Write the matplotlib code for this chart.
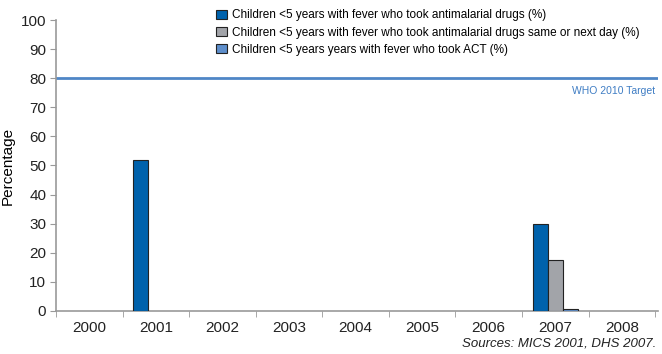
import numpy as np
import matplotlib.pyplot as plt

years = ['2000', '2001', '2002', '2003', '2004', '2005', '2006', '2007', '2008']
took_drugs = [0, 52, 0, 0, 0, 0, 0, 30, 0]
same_next_day = [0, 0, 0, 0, 0, 0, 0, 17.5, 0]
took_act = [0, 0, 0, 0, 0, 0, 0, 0.7, 0]
labels = ['Children <5 years with fever who took antimalarial drugs (%)',
          'Children <5 years with fever who took antimalarial drugs same or next day (%)',
          'Children <5 years years with fever who took ACT (%)']
target = 80

plt.rcParams['font.family'] = ['Liberation Sans', 'DejaVu Sans']

fig = plt.figure(figsize=(6.62, 3.54), dpi=100)
ax = fig.add_axes([0.0846, 0.1215, 0.91, 0.822])

x = np.arange(len(years))
w = 0.225
series = [(took_drugs, '#0062AC'), (same_next_day, '#A2A4A9'), (took_act, '#5E8ECB')]
for i, (vals, col) in enumerate(series):
    v = np.array(vals, dtype=float)
    mask = v > 0
    ax.bar(x[mask] + (i - 1) * w, v[mask], w, color=col, edgecolor='#222222',
           linewidth=0.8, zorder=3)

ax.axhline(target, color='#4F86C6', linewidth=2, zorder=2)
ax.text(len(years) - 0.5, target - 2.8, 'WHO 2010 Target', color='#3F7DC4',
        fontsize=7.5, ha='right', va='top')

ax.set_xlim(-0.5, len(years) - 0.45)
ax.set_ylim(0, 100)
ax.set_yticks(np.arange(0, 101, 10))
ax.set_xticks(x)
ax.set_xticklabels(years)
ax.set_xticks(np.arange(-0.5, len(years), 1), minor=True)
ax.tick_params(axis='x', which='major', length=0, labelsize=11, pad=7, colors='#222222')
ax.tick_params(axis='x', which='minor', length=4, color='#999999')
ax.tick_params(axis='y', labelsize=11, length=4, pad=3, colors='#222222')
ax.tick_params(axis='y', color='#999999')
for s in ['top', 'right']:
    ax.spines[s].set_visible(False)
for s in ['left', 'bottom']:
    ax.spines[s].set_color('#999999')
    ax.spines[s].set_linewidth(1.2)
ax.set_ylabel('Percentage', fontsize=11, labelpad=4)

handles = [plt.Rectangle((0, 0), 1, 1, facecolor=c, edgecolor='#222222', linewidth=0.8)
           for _, c in series]
fig.legend(handles, labels, loc='upper left', bbox_to_anchor=(0.318, 0.99),
           frameon=False, fontsize=8.5, handlelength=0.9, handleheight=0.8,
           handletextpad=0.4, labelspacing=0.45, borderpad=0)

fig.text(0.992, 0.012, 'Sources: MICS 2001, DHS 2007.', style='italic',
         ha='right', va='bottom', fontsize=9.5, color='#222222')

fig.savefig('out.png', dpi=100)
